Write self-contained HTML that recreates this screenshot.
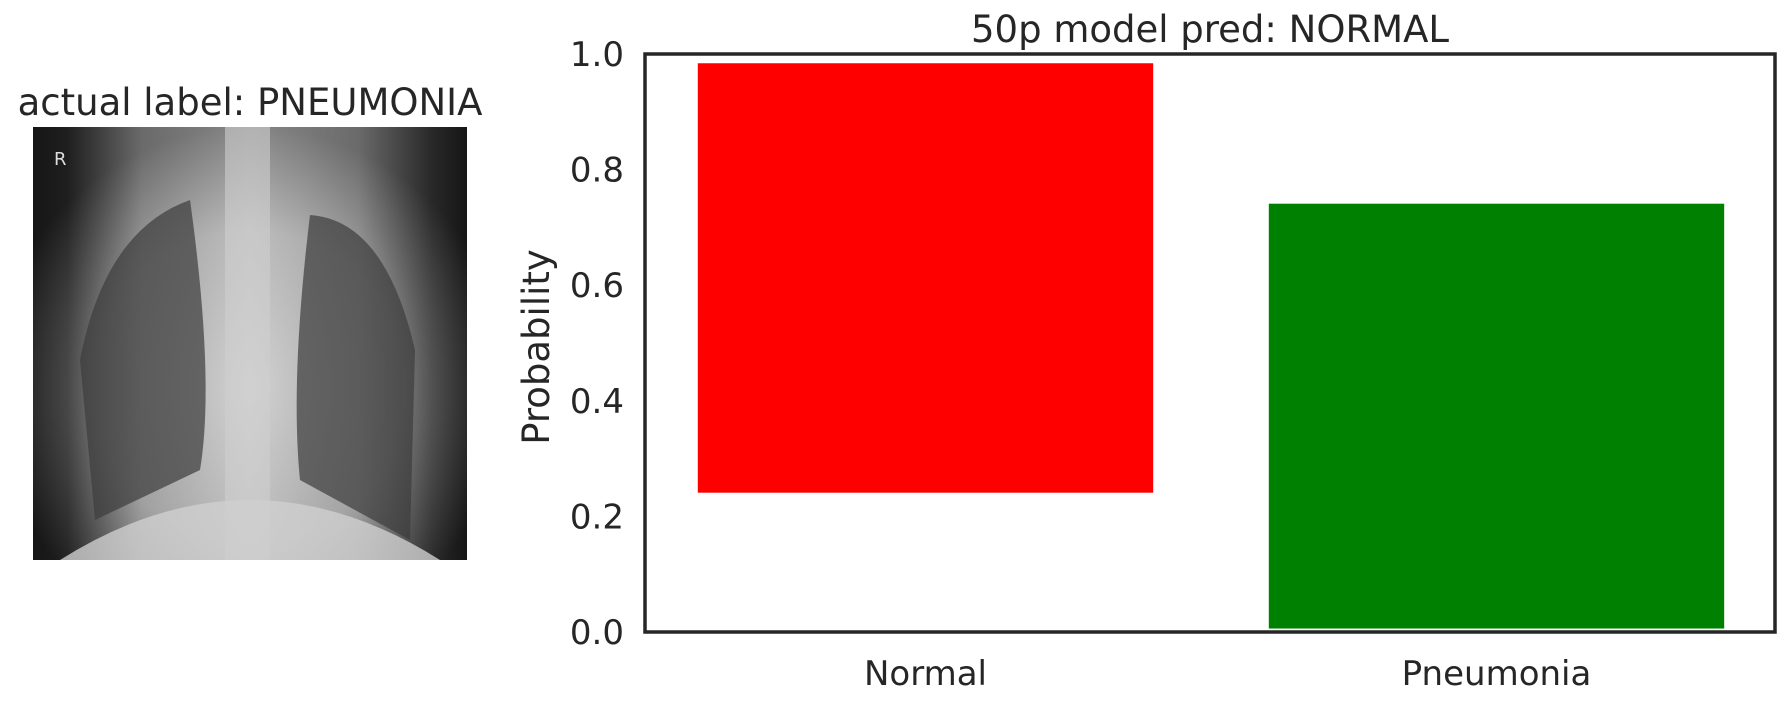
<!DOCTYPE html>
<html><head><meta charset="utf-8"><style>
html,body{margin:0;padding:0;background:#fff;width:1792px;height:707px;overflow:hidden;font-family:"DejaVu Sans","Liberation Sans",sans-serif;}
</style></head><body>
<svg id="fig" width="1792" height="707" viewBox="0 0 1792 707">
<defs>
<radialGradient id="body" cx="0.5" cy="0.6" r="0.6">
<stop offset="0" stop-color="#d8d8d8"/><stop offset="0.6" stop-color="#a8a8a8"/><stop offset="1" stop-color="#303030"/>
</radialGradient>
<linearGradient id="side" x1="0" x2="1">
<stop offset="0" stop-color="#000"/><stop offset="0.08" stop-color="#111"/><stop offset="0.25" stop-color="#9a9a9a"/><stop offset="0.5" stop-color="#cfcfcf"/><stop offset="0.75" stop-color="#9a9a9a"/><stop offset="0.92" stop-color="#222"/><stop offset="1" stop-color="#000"/>
</linearGradient>
</defs>
<text x="250" y="115" font-size="37" fill="#262626" text-anchor="middle">actual label: PNEUMONIA</text>
<g>
<rect x="33" y="127" width="434" height="433" fill="url(#side)"/>
<rect x="33" y="127" width="434" height="433" fill="url(#body)" opacity="0.45"/>
<path d="M95 520 L80 360 Q105 230 190 200 Q215 380 200 470 Z" fill="#3c3c3c" opacity="0.7"/>
<path d="M410 540 L415 350 Q385 220 310 215 Q290 380 300 480 Z" fill="#3c3c3c" opacity="0.7"/>
<path d="M60 560 Q250 440 440 560 Z" fill="#d0d0d0" opacity="0.8"/>
<rect x="225" y="127" width="45" height="433" fill="#cfcfcf" opacity="0.6"/>
<text x="54" y="165" font-size="18" fill="#ddd">R</text>
</g>
<rect x="645" y="54" width="1130" height="578" fill="#fff" stroke="#262626" stroke-width="3.5"/>
<g id="bars"></g>
<g id="yticks"></g>
<g id="xticks"></g>
<text x="1210" y="42" font-size="37" fill="#262626" text-anchor="middle">50p model pred: NORMAL</text>
<text transform="translate(549,347) rotate(-90)" font-size="37" fill="#262626" text-anchor="middle">Probability</text>
</svg>
<script>
const categories = ["Normal", "Pneumonia"];
const barTops = [0.984, 0.741];
const barBottoms = [0.241, 0.006];
const barColors = ["#ff0000", "#008000"];
const yTicks = [0.0, 0.2, 0.4, 0.6, 0.8, 1.0];
const NS = "http://www.w3.org/2000/svg";
const L = 645, R = 1775, T = 54, B = 632;
const y = v => B - v * (B - T);
const band = (R - L) / categories.length;
const bw = band * 0.806;
const bars = document.getElementById('bars');
categories.forEach((c, i) => {
  const cx = L + band * (i + 0.5) + (i === 0 ? -2 : 4);
  const r = document.createElementNS(NS, 'rect');
  r.setAttribute('x', cx - bw / 2);
  r.setAttribute('y', y(barTops[i]));
  r.setAttribute('width', bw);
  r.setAttribute('height', y(barBottoms[i]) - y(barTops[i]));
  r.setAttribute('fill', barColors[i]);
  
  
  bars.appendChild(r);
  const t = document.createElementNS(NS, 'text');
  t.setAttribute('x', cx); t.setAttribute('y', 685);
  t.setAttribute('font-size', '34'); t.setAttribute('fill', '#262626');
  t.setAttribute('text-anchor', 'middle');
  
  
  t.textContent = c;
  document.getElementById('xticks').appendChild(t);
});
yTicks.forEach(v => {
  const t = document.createElementNS(NS, 'text');
  t.setAttribute('x', 624); t.setAttribute('y', y(v) + 12);
  t.setAttribute('font-size', '34'); t.setAttribute('fill', '#262626');
  t.setAttribute('text-anchor', 'end');
  
  
  t.textContent = v.toFixed(1);
  document.getElementById('yticks').appendChild(t);
});
</script>
</body></html>
